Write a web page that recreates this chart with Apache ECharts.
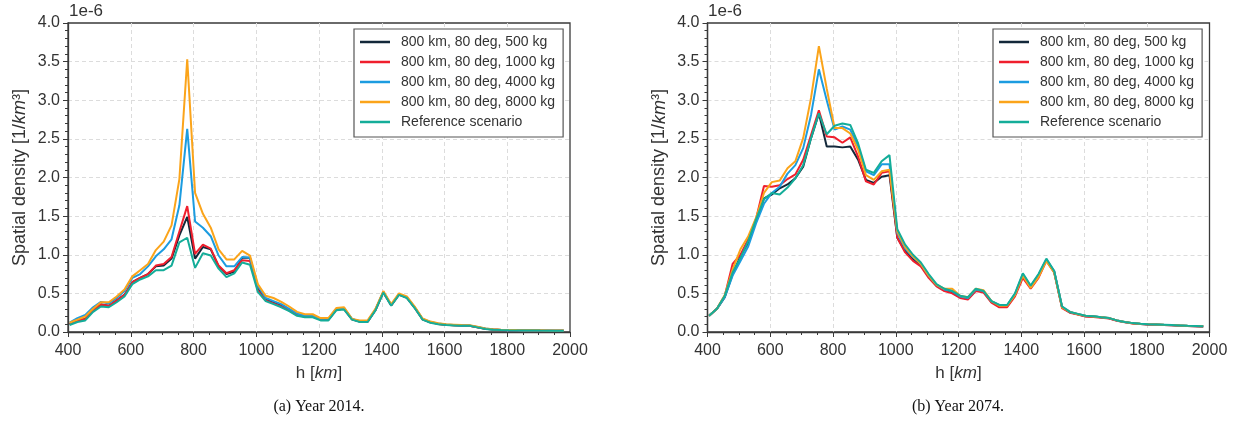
<!DOCTYPE html>
<html><head><meta charset="utf-8">
<script src="https://cdn.jsdelivr.net/npm/echarts@6/dist/echarts.min.js"></script>
<style>html,body{margin:0;padding:0;background:#fff}#c{width:1236px;height:424px}</style>
</head><body><div id="c"></div>
<script>
// altitude bins [km]
const altitudes = [405, 430, 455, 480, 505, 530, 555, 580, 605, 630, 655, 680, 705, 730, 755, 780,
  805, 830, 855, 880, 905, 930, 955, 980, 1005, 1030, 1055, 1080, 1105, 1130, 1155, 1180,
  1205, 1230, 1255, 1280, 1305, 1330, 1355, 1380, 1405, 1430, 1455, 1480, 1505, 1530, 1555, 1580,
  1605, 1630, 1655, 1680, 1705, 1730, 1755, 1780, 1805, 1830, 1855, 1880, 1905, 1930, 1955, 1980];

const seriesNames = ['800 km, 80 deg, 500 kg', '800 km, 80 deg, 1000 kg', '800 km, 80 deg, 4000 kg', '800 km, 80 deg, 8000 kg', 'Reference scenario'];
const xTicks = [400, 600, 800, 1000, 1200, 1400, 1600, 1800, 2000];
const yTicks = [0.0, 0.5, 1.0, 1.5, 2.0, 2.5, 3.0, 3.5, 4.0];
const captions = ['(a) Year 2014.', '(b) Year 2074.'];

// Year 2014 spatial density, units of 1e-6 1/km^3
const y2014_500 = [0.10, 0.15, 0.17, 0.28, 0.355, 0.34, 0.41, 0.48, 0.645, 0.70, 0.75, 0.85, 0.86, 0.95, 1.25, 1.49,
  0.95, 1.10, 1.07, 0.85, 0.75, 0.78, 0.96, 0.96, 0.56, 0.42, 0.38, 0.34, 0.28, 0.22, 0.20, 0.20,
  0.16, 0.16, 0.29, 0.30, 0.165, 0.135, 0.135, 0.285, 0.515, 0.345, 0.485, 0.445, 0.315, 0.165, 0.125, 0.105,
  0.093, 0.088, 0.083, 0.082, 0.062, 0.042, 0.032, 0.026, 0.023, 0.021, 0.020, 0.020, 0.018, 0.017, 0.016, 0.015];
const y2014_1000 = [0.10, 0.15, 0.17, 0.28, 0.355, 0.34, 0.41, 0.48, 0.645, 0.70, 0.75, 0.86, 0.88, 0.97, 1.30, 1.63,
  1.01, 1.13, 1.08, 0.86, 0.76, 0.80, 0.93, 0.92, 0.54, 0.41, 0.37, 0.33, 0.28, 0.22, 0.20, 0.20,
  0.16, 0.16, 0.29, 0.30, 0.165, 0.135, 0.135, 0.285, 0.515, 0.345, 0.485, 0.445, 0.315, 0.165, 0.125, 0.105,
  0.093, 0.088, 0.083, 0.082, 0.062, 0.042, 0.032, 0.026, 0.023, 0.021, 0.020, 0.020, 0.018, 0.017, 0.016, 0.015];
const y2014_4000 = [0.12, 0.18, 0.22, 0.32, 0.39, 0.37, 0.44, 0.53, 0.70, 0.75, 0.85, 0.98, 1.07, 1.20, 1.64, 2.63,
  1.43, 1.35, 1.24, 0.99, 0.85, 0.85, 0.97, 0.96, 0.60, 0.44, 0.40, 0.36, 0.30, 0.24, 0.21, 0.21,
  0.17, 0.17, 0.30, 0.31, 0.17, 0.14, 0.14, 0.29, 0.52, 0.35, 0.49, 0.45, 0.32, 0.17, 0.13, 0.11,
  0.096, 0.090, 0.085, 0.084, 0.064, 0.044, 0.033, 0.027, 0.024, 0.022, 0.021, 0.020, 0.019, 0.018, 0.017, 0.016];
const y2014_8000 = [0.12, 0.16, 0.20, 0.30, 0.385, 0.385, 0.46, 0.55, 0.72, 0.80, 0.88, 1.06, 1.17, 1.38, 1.98, 3.53,
  1.80, 1.53, 1.35, 1.07, 0.94, 0.94, 1.05, 0.99, 0.62, 0.47, 0.44, 0.39, 0.33, 0.26, 0.23, 0.23,
  0.18, 0.18, 0.31, 0.32, 0.17, 0.15, 0.15, 0.30, 0.53, 0.36, 0.50, 0.46, 0.33, 0.175, 0.135, 0.115,
  0.100, 0.095, 0.090, 0.088, 0.068, 0.047, 0.036, 0.030, 0.027, 0.025, 0.024, 0.023, 0.022, 0.021, 0.020, 0.019];
const y2014_ref = [0.09, 0.13, 0.15, 0.26, 0.33, 0.32, 0.385, 0.46, 0.62, 0.68, 0.72, 0.80, 0.80, 0.86, 1.16, 1.22,
  0.83, 1.02, 0.99, 0.82, 0.71, 0.76, 0.90, 0.87, 0.52, 0.40, 0.36, 0.32, 0.27, 0.21, 0.19, 0.19,
  0.15, 0.15, 0.28, 0.29, 0.16, 0.13, 0.13, 0.28, 0.51, 0.34, 0.48, 0.44, 0.31, 0.16, 0.12, 0.10,
  0.090, 0.085, 0.080, 0.080, 0.060, 0.040, 0.030, 0.025, 0.022, 0.020, 0.020, 0.020, 0.018, 0.017, 0.016, 0.015];

// Year 2074
const y2074_500 = [0.21, 0.30, 0.45, 0.75, 0.98, 1.16, 1.44, 1.73, 1.78, 1.86, 1.91, 1.99, 2.14, 2.51, 2.83, 2.40,
  2.40, 2.39, 2.40, 2.23, 1.97, 1.93, 2.01, 2.03, 1.22, 1.05, 0.94, 0.86, 0.72, 0.60, 0.54, 0.51,
  0.45, 0.43, 0.54, 0.52, 0.39, 0.34, 0.34, 0.48, 0.73, 0.58, 0.73, 0.93, 0.78, 0.32, 0.255, 0.23,
  0.205, 0.200, 0.190, 0.178, 0.148, 0.128, 0.113, 0.105, 0.098, 0.096, 0.092, 0.088, 0.083, 0.079, 0.076, 0.071];
const y2074_1000 = [0.21, 0.30, 0.47, 0.88, 1.00, 1.20, 1.47, 1.89, 1.88, 1.90, 1.98, 2.04, 2.23, 2.55, 2.87, 2.53,
  2.52, 2.45, 2.52, 2.27, 1.95, 1.91, 2.06, 2.08, 1.22, 1.03, 0.92, 0.85, 0.70, 0.59, 0.53, 0.50,
  0.44, 0.42, 0.53, 0.51, 0.38, 0.32, 0.32, 0.46, 0.70, 0.56, 0.70, 0.92, 0.77, 0.31, 0.25, 0.225,
  0.200, 0.195, 0.185, 0.175, 0.145, 0.125, 0.110, 0.103, 0.097, 0.095, 0.090, 0.087, 0.082, 0.078, 0.075, 0.070];
const y2074_4000 = [0.21, 0.30, 0.45, 0.73, 0.92, 1.11, 1.41, 1.66, 1.80, 1.88, 2.05, 2.16, 2.38, 2.81, 3.40, 3.00,
  2.62, 2.66, 2.62, 2.40, 2.08, 2.03, 2.17, 2.17, 1.28, 1.08, 0.97, 0.88, 0.73, 0.61, 0.55, 0.53,
  0.46, 0.44, 0.55, 0.53, 0.40, 0.35, 0.35, 0.49, 0.75, 0.59, 0.74, 0.94, 0.79, 0.33, 0.26, 0.233,
  0.210, 0.203, 0.190, 0.180, 0.150, 0.130, 0.115, 0.107, 0.100, 0.097, 0.093, 0.090, 0.085, 0.080, 0.077, 0.073];
const y2074_8000 = [0.21, 0.30, 0.48, 0.81, 1.07, 1.24, 1.48, 1.80, 1.94, 1.96, 2.12, 2.21, 2.51, 3.03, 3.70, 3.15,
  2.64, 2.64, 2.57, 2.36, 2.03, 1.97, 2.08, 2.10, 1.30, 1.10, 0.98, 0.88, 0.73, 0.61, 0.56, 0.56,
  0.47, 0.45, 0.56, 0.54, 0.40, 0.34, 0.34, 0.48, 0.73, 0.57, 0.71, 0.92, 0.77, 0.32, 0.26, 0.23,
  0.210, 0.200, 0.190, 0.180, 0.150, 0.130, 0.114, 0.106, 0.100, 0.097, 0.093, 0.090, 0.085, 0.080, 0.077, 0.073];
const y2074_ref = [0.21, 0.30, 0.47, 0.77, 0.96, 1.18, 1.46, 1.72, 1.80, 1.78, 1.87, 1.99, 2.16, 2.51, 2.83, 2.56,
  2.67, 2.70, 2.68, 2.44, 2.10, 2.06, 2.21, 2.29, 1.33, 1.13, 1.00, 0.90, 0.75, 0.62, 0.56, 0.53,
  0.47, 0.45, 0.56, 0.53, 0.40, 0.35, 0.35, 0.50, 0.76, 0.60, 0.75, 0.95, 0.79, 0.33, 0.26, 0.235,
  0.210, 0.205, 0.190, 0.180, 0.150, 0.130, 0.115, 0.107, 0.100, 0.098, 0.094, 0.090, 0.085, 0.080, 0.077, 0.073];

const colors = ['#13283a', '#ef1f2d', '#1c9ce0', '#fba41a', '#14ad99'];
const data2014 = [y2014_500, y2014_1000, y2014_4000, y2014_8000, y2014_ref];
const data2074 = [y2074_500, y2074_1000, y2074_4000, y2074_8000, y2074_ref];

const FONT = 'Liberation Sans, Arial, sans-serif';
const AX = '#3a3a3a';
const grids = [
  { left: 68, top: 23, width: 502, height: 309 },
  { left: 707.5, top: 23, width: 502, height: 309 }
];

function xAxisFor(i) {
  return {
    type: 'value', gridIndex: i, min: xTicks[0], max: xTicks[xTicks.length - 1], interval: 200,
    name: 'h [{i|km}]', nameLocation: 'middle', nameGap: 33,
    nameTextStyle: { fontFamily: FONT, fontSize: 17, color: '#333',
      rich: { i: { fontStyle: 'italic', fontFamily: FONT, fontSize: 17, color: '#333' } } },
    axisLine: { show: true, onZero: false, lineStyle: { color: AX, width: 1.3 } },
    axisTick: { show: true, length: 5, lineStyle: { color: AX } },
    minorTick: { show: true, splitNumber: 4, length: 3, lineStyle: { color: AX } },
    axisLabel: { fontFamily: FONT, fontSize: 16, color: '#333', margin: 11, formatter: v => String(v) },
    splitLine: { show: true, showMinLine: false, showMaxLine: false, lineStyle: { color: '#dcdcdc', type: [4, 3], width: 1 } }
  };
}
function yAxisFor(i) {
  return {
    type: 'value', gridIndex: i, min: yTicks[0], max: yTicks[yTicks.length - 1], interval: 0.5,
    name: '{n|Spatial density [1/}{i|km}{n|³]}', nameLocation: 'middle', nameGap: 39, nameRotate: 90,
    nameTextStyle: { fontFamily: FONT, fontSize: 18, color: '#333',
      rich: { n: { fontFamily: FONT, fontSize: 18, color: '#333' },
              i: { fontFamily: FONT, fontSize: 18, color: '#333', fontStyle: 'italic' } } },
    axisLine: { show: true, lineStyle: { color: AX, width: 1.3 } },
    axisTick: { show: true, length: 5, lineStyle: { color: AX } },
    minorTick: { show: true, splitNumber: 5, length: 3, lineStyle: { color: AX } },
    axisLabel: { fontFamily: FONT, fontSize: 16, color: '#333', margin: 8,
      formatter: v => v.toFixed(1) },
    splitLine: { show: true, showMinLine: false, showMaxLine: false, lineStyle: { color: '#dcdcdc', type: [4, 3], width: 1 } }
  };
}

const series = [];
[data2014, data2074].forEach((set, gi) => {
  set.forEach((vals, si) => {
    series.push({
      name: seriesNames[si], type: 'line', xAxisIndex: gi, yAxisIndex: gi,
      data: altitudes.map((h, k) => [h, vals[k]]),
      symbol: 'none', smooth: false, animation: false,
      lineStyle: { color: colors[si], width: 2 }, itemStyle: { color: colors[si] }
    });
  });
});

function legendFor(left) {
  return {
    data: seriesNames, orient: 'vertical', left: left, top: 29,
    backgroundColor: '#fff', borderColor: '#555', borderWidth: 1.2, borderRadius: 0,
    padding: [5, 8, 7, 6], itemGap: 4, itemWidth: 30, itemHeight: 2.5, icon: 'rect',
    textStyle: { fontFamily: FONT, fontSize: 14, color: '#333', lineHeight: 16, padding: [0, 0, 0, 6] },
    selectedMode: false
  };
}

const chart = echarts.init(document.getElementById('c'), null, { renderer: 'canvas' });
chart.setOption({
  backgroundColor: '#fff',
  animation: false,
  color: colors,
  grid: grids.map(g => Object.assign({ show: true, borderColor: AX, borderWidth: 1.3, backgroundColor: 'transparent' }, g)),
  xAxis: [xAxisFor(0), xAxisFor(1)],
  yAxis: [yAxisFor(0), yAxisFor(1)],
  legend: [legendFor(354), legendFor(993)],
  series: series,
  graphic: [
    { type: 'text', left: 69, top: 3, style: { text: '1e-6', font: '17px ' + FONT, fill: '#333' } },
    { type: 'text', left: 708, top: 3, style: { text: '1e-6', font: '17px ' + FONT, fill: '#333' } },
    { type: 'text', x: 319, y: 407, style: { text: captions[0], font: '16px "Liberation Serif", "DejaVu Serif", serif', fill: '#111', align: 'center', verticalAlign: 'middle' } },
    { type: 'text', x: 958, y: 407, style: { text: captions[1], font: '16px "Liberation Serif", "DejaVu Serif", serif', fill: '#111', align: 'center', verticalAlign: 'middle' } }
  ]
});
</script>
</body></html>
